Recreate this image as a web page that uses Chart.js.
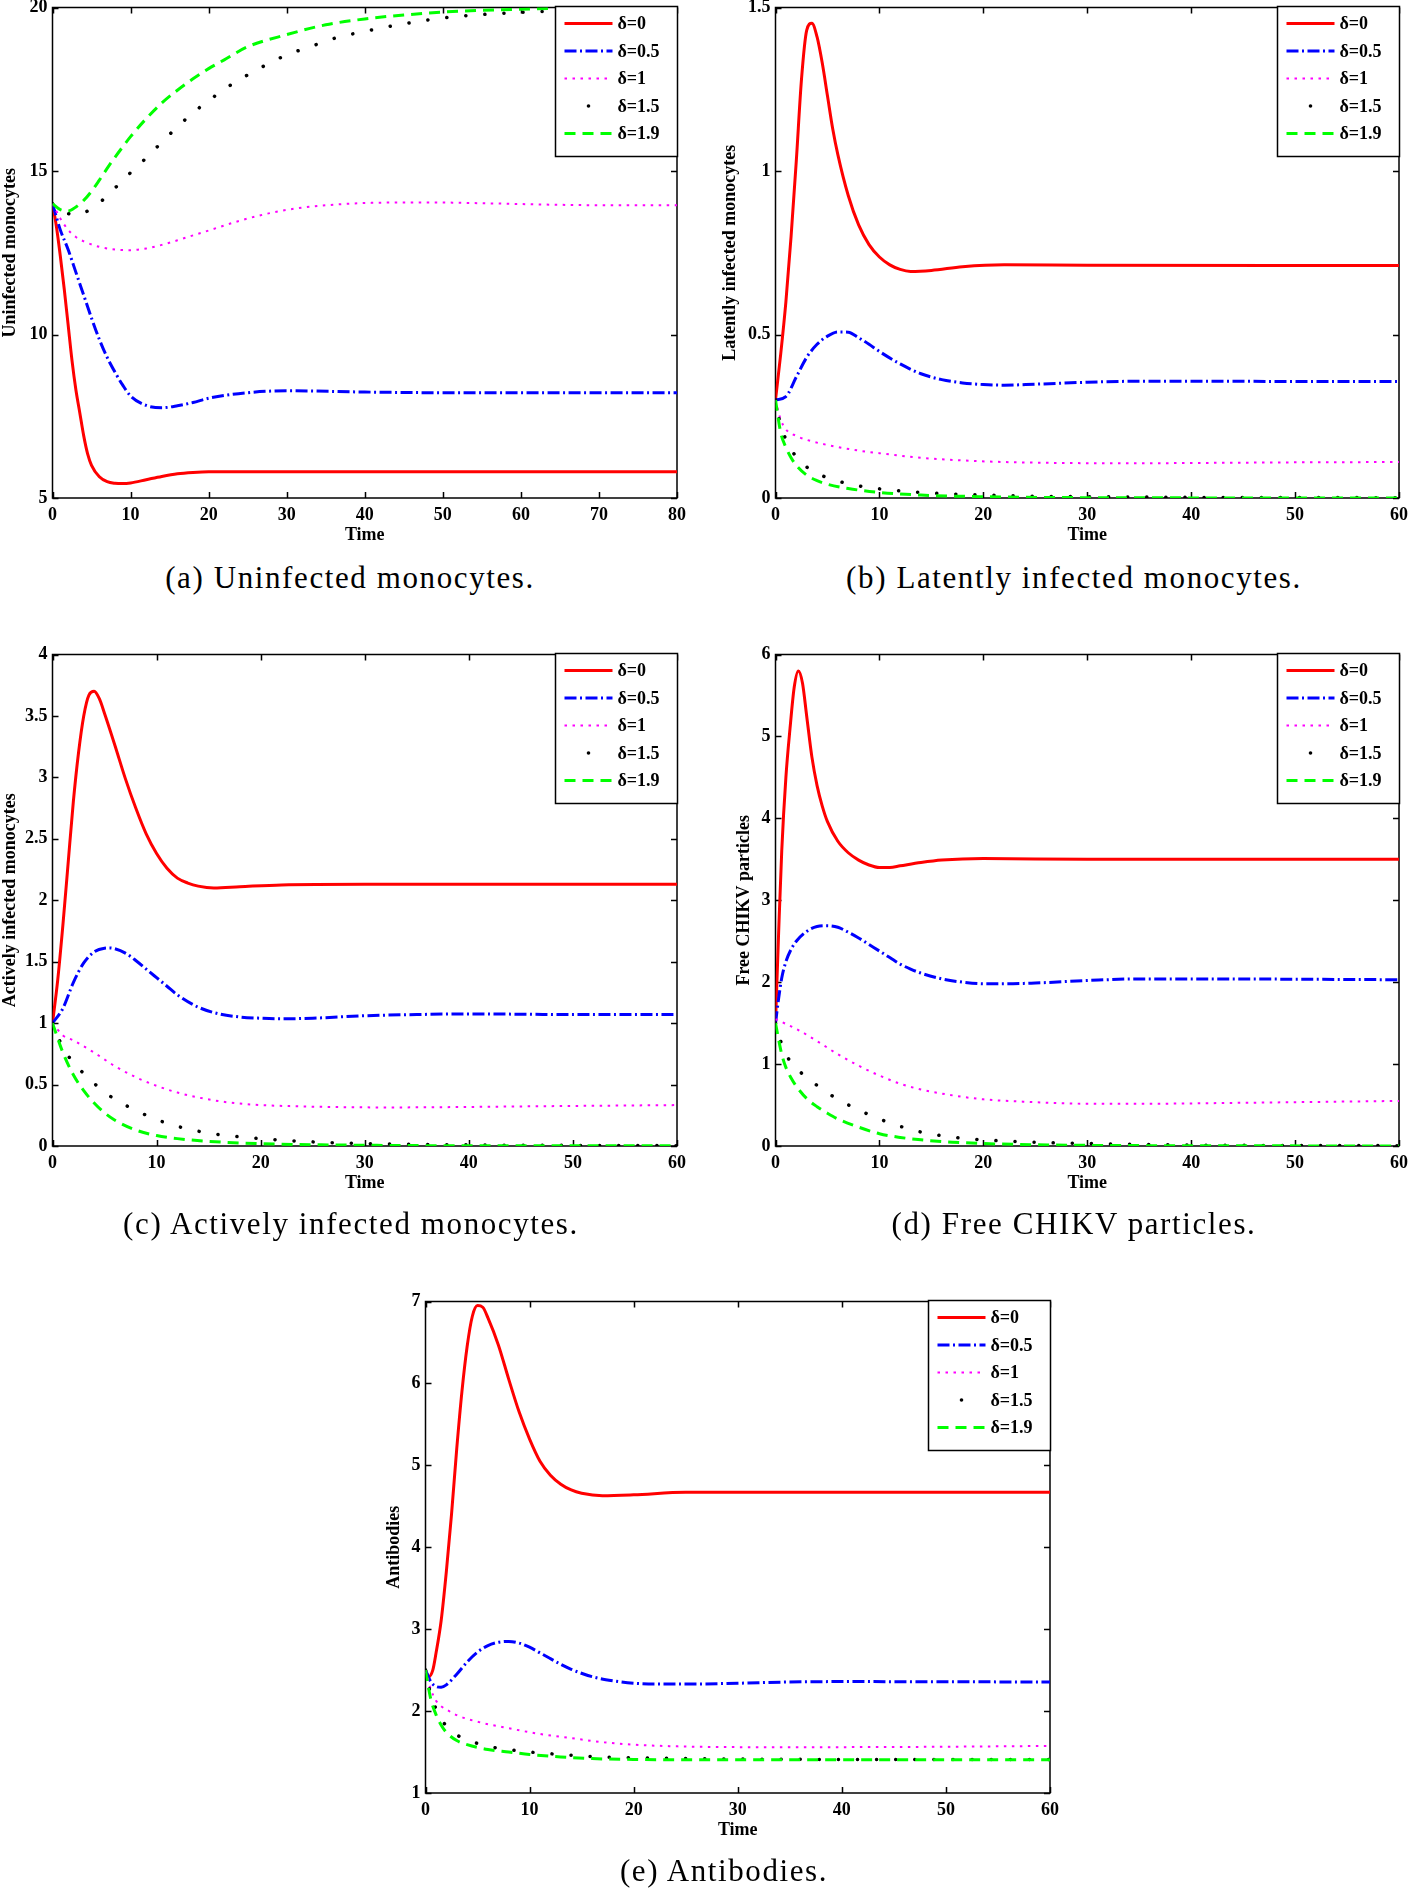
<!DOCTYPE html>
<html>
<head>
<meta charset="utf-8">
<script src="https://cdn.jsdelivr.net/npm/chart.js@4.4.1/dist/chart.umd.min.js"></script>
<style>
  body { margin:0; background:#fff; width:1410px; height:1890px; position:relative; overflow:hidden; }
  .panel { position:absolute; }
  .cap { position:absolute; font-family:'Liberation Serif','Times New Roman',serif; font-size:31px; letter-spacing:1.6px;
         white-space:nowrap; transform:translate(-50%,-50%); color:#000; }
</style>
</head>
<body>
<div class="panel" style="left:0px;top:-8px"><canvas id="ca" width="700" height="568"></canvas></div>
<div class="panel" style="left:720px;top:-8px"><canvas id="cb" width="690" height="568"></canvas></div>
<div class="panel" style="left:0px;top:640px"><canvas id="cc" width="700" height="568"></canvas></div>
<div class="panel" style="left:734px;top:640px"><canvas id="cd" width="676" height="568"></canvas></div>
<div class="panel" style="left:384px;top:1290px"><canvas id="ce" width="676" height="565"></canvas></div>

<div class="cap" style="left:350px;top:578px">(a) Uninfected monocytes.</div>
<div class="cap" style="left:1074px;top:578px">(b) Latently infected monocytes.</div>
<div class="cap" style="left:351px;top:1224px">(c) Actively infected monocytes.</div>
<div class="cap" style="left:1074px;top:1224px">(d) Free CHIKV particles.</div>
<div class="cap" style="left:724px;top:1871px">(e) Antibodies.</div>

<script>
// legend labels and ticks
const deltaLabels = ['δ=0', 'δ=0.5', 'δ=1', 'δ=1.5', 'δ=1.9'];
const xTicks80 = [0, 10, 20, 30, 40, 50, 60, 70, 80];
const xTicks60 = [0, 10, 20, 30, 40, 50, 60];
const aYTicks = [5, 10, 15, 20];
const bYTicks = [0, 0.5, 1, 1.5];
const cYTicks = [0, 0.5, 1, 1.5, 2, 2.5, 3, 3.5, 4];
const dYTicks = [0, 1, 2, 3, 4, 5, 6];
const eYTicks = [1, 2, 3, 4, 5, 6, 7];

// (a) uninfected monocytes
const aT_0  = [0, 0.5, 1, 1.5, 2, 2.5, 3, 3.5, 4, 4.5, 5, 6, 7, 8, 9, 10, 12, 14, 16, 18, 20, 30, 80];
const aV_0  = [14, 13.3, 12.4, 11.4, 10.3, 9.2, 8.3, 7.6, 6.9, 6.35, 6.0, 5.65, 5.5, 5.45, 5.44, 5.46, 5.56, 5.66, 5.74, 5.78, 5.8, 5.8, 5.8];
const aT_05 = [0, 1, 2, 3, 4, 5, 6, 7, 8, 9, 10, 12, 14, 16, 18, 20, 25, 30, 40, 50, 80];
const aV_05 = [14, 13.2, 12.6, 11.9, 11.2, 10.5, 9.85, 9.3, 8.85, 8.45, 8.12, 7.83, 7.76, 7.82, 7.92, 8.05, 8.22, 8.28, 8.24, 8.22, 8.22];
const aT_1  = [0, 1, 2, 3, 4, 6, 8, 10, 12, 14, 16, 18, 20, 24, 28, 32, 36, 40, 48, 56, 64, 72, 80];
const aV_1  = [14, 13.55, 13.2, 12.98, 12.85, 12.68, 12.6, 12.58, 12.63, 12.74, 12.88, 13.03, 13.18, 13.48, 13.72, 13.88, 13.97, 14.02, 14.04, 14.01, 13.97, 13.95, 13.95];
const aT_15 = [0, 1, 2, 3, 4, 5, 6, 7, 8, 9, 10, 12, 14, 16, 18, 20, 22, 24, 27, 30, 33, 36, 40, 45, 50, 56, 64, 72, 80];
const aV_15 = [14, 13.82, 13.7, 13.66, 13.72, 13.85, 14.02, 14.25, 14.48, 14.7, 14.95, 15.4, 15.88, 16.35, 16.78, 17.15, 17.5, 17.8, 18.2, 18.55, 18.8, 19.05, 19.27, 19.5, 19.68, 19.8, 19.89, 19.94, 19.96];
const aT_19 = [0, 1, 2, 3, 4, 5, 6, 7, 8, 9, 10, 12, 14, 16, 18, 20, 22, 25, 30, 35, 40, 45, 50, 60, 70, 80];
const aV_19 = [14, 13.82, 13.78, 13.9, 14.1, 14.38, 14.72, 15.08, 15.42, 15.74, 16.05, 16.6, 17.08, 17.47, 17.82, 18.13, 18.4, 18.8, 19.17, 19.47, 19.65, 19.77, 19.86, 19.95, 19.99, 20];

// (b) latently infected monocytes
const bT_0  = [0, 0.5, 1, 1.5, 2, 2.5, 3, 3.5, 4, 4.5, 5, 5.5, 6, 7, 8, 9, 10, 11, 12, 13, 15, 18, 22, 30, 60];
const bV_0  = [0.3, 0.44, 0.6, 0.8, 1.03, 1.28, 1.43, 1.452, 1.41, 1.33, 1.23, 1.13, 1.05, 0.925, 0.835, 0.775, 0.737, 0.713, 0.699, 0.693, 0.696, 0.707, 0.713, 0.712, 0.711];
const bT_05 = [0, 1, 2, 3, 4, 5, 6, 7, 8, 9, 10, 12, 14, 16, 18, 20, 22, 25, 30, 35, 60];
const bV_05 = [0.3, 0.31, 0.37, 0.43, 0.47, 0.495, 0.508, 0.507, 0.49, 0.47, 0.448, 0.41, 0.38, 0.362, 0.352, 0.347, 0.345, 0.348, 0.354, 0.357, 0.356];
const bT_1  = [0, 0.5, 1, 2, 3, 5, 8, 10, 14, 18, 22, 28, 34, 40, 50, 60];
const bV_1  = [0.3, 0.24, 0.21, 0.19, 0.178, 0.162, 0.145, 0.137, 0.123, 0.115, 0.11, 0.107, 0.106, 0.107, 0.109, 0.11];
const bT_15 = [0, 0.5, 1, 2, 3, 4, 6, 8, 10, 14, 18, 24, 30, 40, 60];
const bV_15 = [0.3, 0.22, 0.18, 0.125, 0.095, 0.075, 0.052, 0.037, 0.028, 0.017, 0.011, 0.006, 0.004, 0.002, 0.001];
const bT_19 = [0, 0.5, 1, 1.5, 2, 3, 4, 5, 7, 10, 14, 20, 30, 60];
const bV_19 = [0.3, 0.2, 0.155, 0.123, 0.1, 0.07, 0.053, 0.042, 0.029, 0.017, 0.009, 0.004, 0.001, 0];

// (c) actively infected monocytes
const cT_0  = [0, 0.5, 1, 1.5, 2, 2.5, 3, 3.5, 4, 4.5, 5, 6, 7, 8, 9, 10, 11, 12, 13, 14, 15.5, 18, 22, 30, 60];
const cV_0  = [1, 1.35, 1.8, 2.3, 2.8, 3.2, 3.5, 3.67, 3.7, 3.64, 3.52, 3.26, 2.99, 2.75, 2.54, 2.38, 2.26, 2.18, 2.14, 2.115, 2.1, 2.11, 2.125, 2.13, 2.13];
const cT_05 = [0, 1, 2, 3, 4, 5, 5.5, 6, 7, 8, 9, 10, 11, 12, 14, 16, 18, 20, 22, 25, 30, 35, 40, 50, 60];
const cV_05 = [1, 1.12, 1.33, 1.49, 1.58, 1.61, 1.612, 1.605, 1.57, 1.51, 1.44, 1.37, 1.3, 1.23, 1.13, 1.075, 1.05, 1.04, 1.035, 1.04, 1.06, 1.07, 1.075, 1.07, 1.07];
const cT_1  = [0, 1, 2, 4, 6, 8, 10, 12, 14, 16, 18, 20, 24, 28, 32, 36, 40, 50, 60];
const cV_1  = [1, 0.9, 0.86, 0.76, 0.65, 0.56, 0.49, 0.435, 0.395, 0.365, 0.345, 0.333, 0.322, 0.316, 0.314, 0.315, 0.318, 0.326, 0.333];
const cT_15 = [0, 1, 2, 3, 4, 5, 6, 8, 10, 12, 15, 18, 22, 26, 30, 40, 50, 60];
const cV_15 = [1, 0.8, 0.68, 0.59, 0.51, 0.44, 0.38, 0.29, 0.215, 0.16, 0.105, 0.075, 0.048, 0.03, 0.02, 0.009, 0.005, 0.003];
const cT_19 = [0, 1, 2, 3, 4, 5, 6, 8, 10, 12, 15, 18, 22, 30, 40, 60];
const cV_19 = [1, 0.76, 0.58, 0.45, 0.35, 0.27, 0.21, 0.13, 0.085, 0.06, 0.038, 0.025, 0.015, 0.006, 0.002, 0.001];

// (d) free CHIKV particles
const dT_0  = [0, 0.3, 0.6, 1, 1.4, 1.8, 2.2, 2.6, 3, 3.5, 4, 4.5, 5, 6, 7, 8, 9, 10, 11, 12, 14, 16, 20, 30, 60];
const dV_0  = [1.5, 2.6, 3.6, 4.5, 5.1, 5.6, 5.8, 5.65, 5.25, 4.75, 4.4, 4.15, 3.96, 3.72, 3.58, 3.49, 3.43, 3.4, 3.4, 3.42, 3.46, 3.49, 3.51, 3.5, 3.5];
const dT_05 = [0, 0.3, 0.6, 1, 1.5, 2, 3, 4, 5, 6, 7, 8, 9, 10, 11, 12, 13, 14, 16, 18, 20, 22, 25, 30, 35, 40, 60];
const dV_05 = [1.5, 1.8, 2.05, 2.25, 2.4, 2.5, 2.62, 2.68, 2.69, 2.67, 2.61, 2.54, 2.46, 2.38, 2.3, 2.22, 2.16, 2.11, 2.04, 2.0, 1.98, 1.98, 1.99, 2.02, 2.04, 2.04, 2.03];
const dT_1  = [0, 1, 2, 4, 6, 8, 10, 12, 14, 16, 18, 20, 24, 28, 32, 36, 40, 50, 60];
const dV_1  = [1.55, 1.49, 1.43, 1.28, 1.12, 0.98, 0.86, 0.76, 0.69, 0.64, 0.6, 0.57, 0.54, 0.52, 0.515, 0.515, 0.52, 0.535, 0.55];
const dT_15 = [0, 0.5, 1, 2, 3, 4, 5, 6, 8, 10, 12, 14, 16, 18, 20, 25, 30, 40, 60];
const dV_15 = [1.5, 1.28, 1.12, 0.95, 0.84, 0.74, 0.65, 0.57, 0.44, 0.33, 0.24, 0.17, 0.125, 0.095, 0.075, 0.045, 0.03, 0.012, 0.004];
const dT_19 = [0, 0.3, 0.6, 1, 1.5, 2, 3, 4, 5, 6, 8, 10, 12, 14, 17, 20, 25, 30, 40, 60];
const dV_19 = [1.5, 1.3, 1.12, 0.96, 0.83, 0.73, 0.58, 0.48, 0.4, 0.33, 0.23, 0.15, 0.105, 0.075, 0.047, 0.03, 0.015, 0.008, 0.003, 0.001];

// (e) antibodies
const eT_0  = [0, 0.3, 0.7, 1, 1.5, 2, 2.5, 3, 3.5, 4, 4.5, 5, 5.5, 6, 7, 8, 9, 10, 11, 12, 13, 14, 15, 17, 20, 25, 30, 60];
const eV_0  = [2.5, 2.42, 2.5, 2.7, 3.1, 3.7, 4.4, 5.2, 5.9, 6.45, 6.82, 6.95, 6.93, 6.8, 6.47, 6.05, 5.65, 5.32, 5.05, 4.88, 4.77, 4.7, 4.66, 4.63, 4.64, 4.67, 4.67, 4.67];
const eT_05 = [0, 0.5, 1, 1.5, 2, 3, 4, 5, 6, 7, 8, 9, 10, 11, 12, 13, 14, 16, 18, 20, 22, 25, 30, 35, 40, 60];
const eV_05 = [2.5, 2.36, 2.3, 2.29, 2.32, 2.45, 2.6, 2.72, 2.8, 2.84, 2.85, 2.83, 2.78, 2.71, 2.64, 2.57, 2.51, 2.42, 2.37, 2.34, 2.33, 2.33, 2.34, 2.355, 2.36, 2.355];
const eT_1  = [0, 0.5, 1, 1.5, 2, 3, 5, 8, 11, 14, 17, 20, 24, 30, 40, 50, 60];
const eV_1  = [2.5, 2.27, 2.13, 2.06, 2.02, 1.95, 1.87, 1.79, 1.72, 1.67, 1.62, 1.59, 1.57, 1.56, 1.56, 1.565, 1.575];
const eT_15 = [0, 0.5, 1, 1.5, 2, 3, 4, 6, 8, 10, 13, 16, 20, 25, 30, 40, 60];
const eV_15 = [2.5, 2.2, 2.03, 1.9, 1.82, 1.71, 1.65, 1.57, 1.53, 1.5, 1.47, 1.445, 1.43, 1.42, 1.415, 1.41, 1.41];
const eT_19 = [0, 0.5, 1, 1.5, 2, 3, 4, 6, 8, 10, 13, 16, 20, 30, 60];
const eV_19 = [2.5, 2.15, 1.96, 1.83, 1.74, 1.64, 1.59, 1.53, 1.5, 1.47, 1.44, 1.42, 1.41, 1.405, 1.405];

const SERIF = "'Liberation Serif','Times New Roman',serif";

// line styles, one per delta
const styles = [
  { color:'#ff0000', width:3,   dash:[],                cap:'butt' },
  { color:'#0000ff', width:3,   dash:[12, 3.5, 2, 3.5], cap:'butt' },
  { color:'#ff00ff', width:2,   dash:[2.5, 5.5],        cap:'butt' },
  { color:'#000000', width:3.5, dash:[0.1, 19],         cap:'round' },
  { color:'#00ff00', width:3,   dash:[11, 7],           cap:'butt' }
];

// box, inward ticks and the legend, matlab style
const boxPlugin = {
  id: 'matlabBox',
  beforeDatasetsDraw(chart) {
    const { ctx, chartArea: a, scales: { x, y } } = chart;
    ctx.save();
    ctx.strokeStyle = '#000';
    ctx.lineWidth = 1.5;
    ctx.setLineDash([]);
    ctx.strokeRect(a.left, a.top, a.right - a.left, a.bottom - a.top);
    ctx.beginPath();
    x.ticks.forEach(t => {
      const px = Math.round(x.getPixelForValue(t.value)) + 0.5;
      ctx.moveTo(px, a.bottom); ctx.lineTo(px, a.bottom - 6);
      ctx.moveTo(px, a.top);    ctx.lineTo(px, a.top + 6);
    });
    y.ticks.forEach(t => {
      const py = Math.round(y.getPixelForValue(t.value)) + 0.5;
      ctx.moveTo(a.left, py);  ctx.lineTo(a.left + 6, py);
      ctx.moveTo(a.right, py); ctx.lineTo(a.right - 6, py);
    });
    ctx.stroke();
    ctx.restore();
  },
  afterDraw(chart) {
    const { ctx, chartArea: a } = chart;
    const w = 122, h = 150;
    const bx = Math.round(a.right - w) + 0.5, by = Math.round(a.top) - 1.5;
    ctx.save();
    ctx.fillStyle = '#fff';
    ctx.fillRect(bx, by, w, h);
    ctx.strokeStyle = '#000';
    ctx.lineWidth = 1.5;
    ctx.setLineDash([]);
    ctx.strokeRect(bx, by, w, h);
    ctx.font = 'bold 18px ' + SERIF;
    ctx.textBaseline = 'middle';
    deltaLabels.forEach((lab, i) => {
      const st = styles[i];
      const yy = by + 17 + i * 27.5;
      ctx.strokeStyle = st.color;
      ctx.fillStyle = st.color;
      if (i === 3) {
        ctx.beginPath();
        ctx.arc(bx + 33, yy, 1.8, 0, Math.PI * 2);
        ctx.fill();
      } else {
        ctx.lineWidth = st.width;
        ctx.lineCap = st.cap;
        ctx.setLineDash(st.dash);
        ctx.beginPath();
        ctx.moveTo(bx + 9, yy);
        ctx.lineTo(bx + 57, yy);
        ctx.stroke();
      }
      ctx.fillStyle = '#000';
      ctx.fillText(lab, bx + 62, yy + 1);
    });
    ctx.restore();
  }
};

function makePanel(id, p) {
  const datasets = p.series.map((s, i) => ({
    label: deltaLabels[i],
    data: s[0].map((t, k) => ({ x: t, y: s[1][k] })),
    borderColor: styles[i].color,
    borderWidth: styles[i].width,
    borderDash: styles[i].dash,
    borderCapStyle: styles[i].cap,
    pointRadius: 0,
    cubicInterpolationMode: 'monotone',
    fill: false,
    order: 4 - i
  }));
  const lastY = p.yTicks.length - 1;
  new Chart(document.getElementById(id), {
    type: 'line',
    data: { datasets },
    options: {
      responsive: false,
      animation: false,
      devicePixelRatio: 1,
      layout: { padding: { left: 0, top: p.pt, right: p.pr, bottom: 0 } },
      plugins: { legend: { display: false }, tooltip: { enabled: false } },
      scales: {
        x: {
          type: 'linear', min: p.xTicks[0], max: p.xTicks[p.xTicks.length - 1],
          grid: { display: false, drawTicks: false }, border: { display: false },
          afterBuildTicks: s => { s.ticks = p.xTicks.map(v => ({ value: v })); },
          afterFit: s => { s.height = 62; s.paddingLeft = 0; s.paddingRight = 0; },
          ticks: { color: '#000', padding: 7, maxRotation: 0, autoSkip: false,
                   callback: v => String(v),
                   font: { family: SERIF, size: 18, weight: 'bold' } },
          title: { display: true, text: 'Time', color: '#000', padding: { top: 0, bottom: 14 },
                   font: { family: SERIF, size: 18, weight: 'bold' } }
        },
        y: {
          type: 'linear', min: p.yTicks[0], max: p.yTicks[lastY],
          grid: { display: false, drawTicks: false }, border: { display: false },
          afterBuildTicks: s => { s.ticks = p.yTicks.map(v => ({ value: v })); },
          afterFit: s => { s.width = p.yw; s.paddingTop = 0; s.paddingBottom = 0; },
          ticks: { color: '#000', padding: 5, autoSkip: false,
                   callback: v => String(v),
                   labelOffset: c => (c.index === lastY ? p.topNudge : 0),
                   font: { family: SERIF, size: 18, weight: 'bold' } },
          title: { display: true, text: p.ytitle, color: '#000', padding: { top: 0, bottom: 0 },
                   font: { family: SERIF, size: 18, weight: 'bold' } }
        }
      }
    },
    plugins: [boxPlugin]
  });
}

makePanel('ca', { pt: 15.5, pr: 23, yw: 52.5, topNudge: 3, xTicks: xTicks80, yTicks: aYTicks, ytitle: 'Uninfected monocytes',
  series: [[aT_0, aV_0], [aT_05, aV_05], [aT_1, aV_1], [aT_15, aV_15], [aT_19, aV_19]] });
makePanel('cb', { pt: 15.5, pr: 11, yw: 55.5, topNudge: 3, xTicks: xTicks60, yTicks: bYTicks, ytitle: 'Latently infected monocytes',
  series: [[bT_0, bV_0], [bT_05, bV_05], [bT_1, bV_1], [bT_15, bV_15], [bT_19, bV_19]] });
makePanel('cc', { pt: 14.5, pr: 23, yw: 52.5, topNudge: 0, xTicks: xTicks60, yTicks: cYTicks, ytitle: 'Actively infected monocytes',
  series: [[cT_0, cV_0], [cT_05, cV_05], [cT_1, cV_1], [cT_15, cV_15], [cT_19, cV_19]] });
makePanel('cd', { pt: 14.5, pr: 11, yw: 41.5, topNudge: 0, xTicks: xTicks60, yTicks: dYTicks, ytitle: 'Free CHIKV particles',
  series: [[dT_0, dV_0], [dT_05, dV_05], [dT_1, dV_1], [dT_15, dV_15], [dT_19, dV_19]] });
makePanel('ce', { pt: 11.5, pr: 10, yw: 41.5, topNudge: 0, xTicks: xTicks60, yTicks: eYTicks, ytitle: 'Antibodies',
  series: [[eT_0, eV_0], [eT_05, eV_05], [eT_1, eV_1], [eT_15, eV_15], [eT_19, eV_19]] });
</script>
</body>
</html>
